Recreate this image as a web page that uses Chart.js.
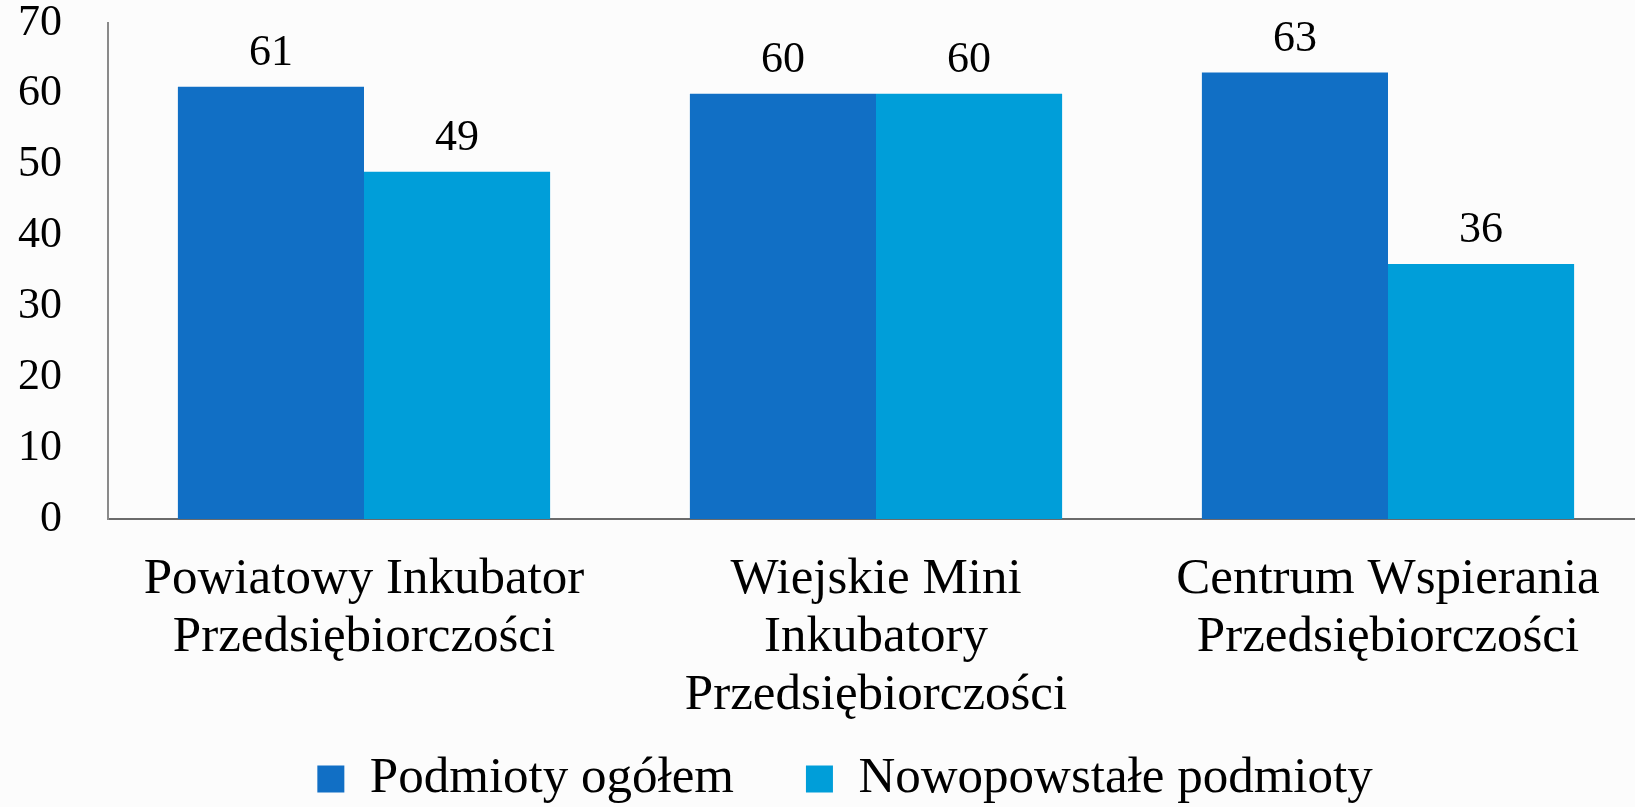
<!DOCTYPE html>
<html>
<head>
<meta charset="utf-8">
<script src="https://cdn.jsdelivr.net/npm/chart.js@4/dist/chart.umd.min.js"></script>
<style>
html, body { margin: 0; padding: 0; overflow: hidden; background: #fcfcfc; }
canvas { display: block; }
</style>
</head>
<body>
<canvas id="c" width="1660" height="807"></canvas>
<script>
const categories = [
  ["Powiatowy Inkubator", "Przedsiębiorczości"],
  ["Wiejskie Mini", "Inkubatory", "Przedsiębiorczości"],
  ["Centrum Wspierania", "Przedsiębiorczości"]
];
const seriesNames = ["Podmioty ogółem", "Nowopowstałe podmioty"];
const podmiotyOgolem = [61, 60, 63];
const nowopowstale = [49, 60, 36];
const yTicks = [0, 10, 20, 30, 40, 50, 60, 70];

const FONT = "'Liberation Serif', 'Times New Roman', serif";

const valueLabels = {
  id: 'valueLabels',
  afterDatasetsDraw(chart) {
    const ctx = chart.ctx;
    ctx.save();
    ctx.font = "44px " + FONT;
    ctx.fillStyle = "#000";
    ctx.textAlign = "center";
    ctx.textBaseline = "alphabetic";
    chart.data.datasets.forEach((ds, di) => {
      const meta = chart.getDatasetMeta(di);
      meta.data.forEach((el, i) => {
        ctx.fillText(String(ds.data[i]), el.x, el.y - 22);
      });
    });
    ctx.restore();
  }
};

new Chart(document.getElementById('c'), {
  type: 'bar',
  data: {
    labels: categories,
    datasets: [
      { label: seriesNames[0], data: podmiotyOgolem, backgroundColor: 'rgb(17,111,197)', categoryPercentage: 0.727, barPercentage: 1.0 },
      { label: seriesNames[1], data: nowopowstale, backgroundColor: 'rgb(0,158,217)', categoryPercentage: 0.727, barPercentage: 1.0 }
    ]
  },
  options: {
    responsive: false,
    animation: false,
    layout: { padding: { left: 46, right: 16, top: 23, bottom: -7.5 } },
    plugins: {
      legend: {
        position: 'bottom',
        labels: {
          boxWidth: 27, boxHeight: 27, padding: 72,
          color: '#000',
          font: { family: FONT, size: 51 }
        }
      },
      tooltip: { enabled: false }
    },
    scales: {
      x: {
        grid: { display: false, drawTicks: false },
        border: { display: true, color: '#6b6b6b', width: 2 },
        ticks: {
          color: '#000', mirror: true, padding: -90, maxRotation: 0, autoSkip: false,
          font: { family: FONT, size: 51, lineHeight: 58/51 }
        },
        afterFit(s) { s.height = 162.5; }
      },
      y: {
        min: 0, max: 70,
        grid: { display: false, drawTicks: false },
        border: { display: true, color: '#8a8a8a', width: 2 },
        afterBuildTicks(s) { s.ticks = yTicks.map(v => ({ value: v })); },
        ticks: {
          color: '#000', mirror: true, crossAlign: 'far', padding: -90,
          font: { family: FONT, size: 44, lineHeight: 1 }
        },
        afterFit(s) { s.width = 62; }
      }
    }
  },
  plugins: [valueLabels]
});
</script>
</body>
</html>
